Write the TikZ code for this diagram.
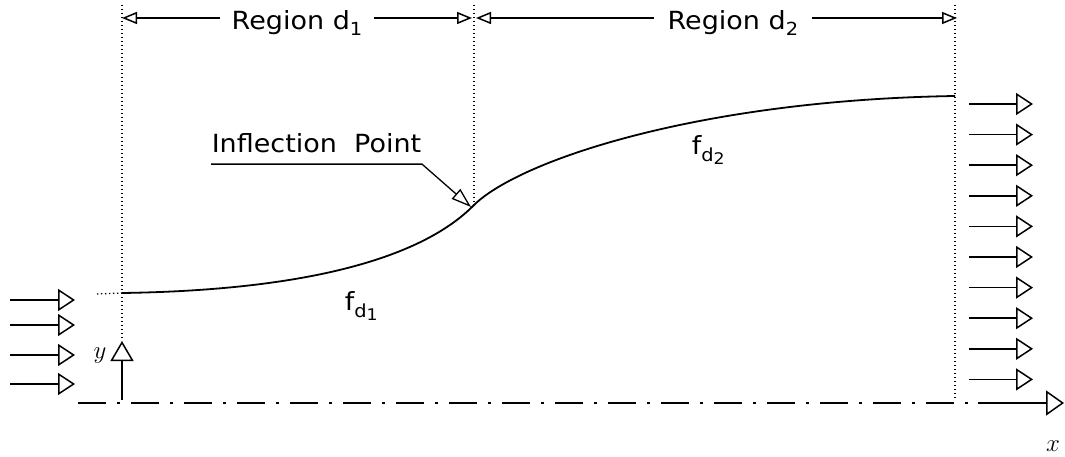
\documentclass[tikz,border=0pt]{standalone}
\usepackage{fontspec}
\setmainfont{DejaVu Sans}[FakeStretch=1.08]
\usetikzlibrary{arrows.meta}
\newcommand{\lowsub}[1]{\raisebox{-6pt}{\fontsize{18}{18}\selectfont #1}}
\newcommand{\fsub}[1]{f\raisebox{-7pt}{\fontsize{18}{18}\selectfont d\raisebox{-3pt}{\fontsize{16}{16}\selectfont #1}}}

\begin{document}
\begin{tikzpicture}[x=1pt,y=-1pt,line width=1.5pt,
  every node/.style={font=\fontsize{25}{25}\selectfont, inner sep=0pt},
  guide/.style={line width=1.3pt, dash pattern=on 1.3pt off 2.7pt},
  centre/.style={dash pattern=on 28pt off 11pt on 3pt off 11pt},
  dimline/.style={{Triangle[open,length=15pt,width=12pt]}-{Triangle[open,length=15pt,width=12pt]}},
  flow/.style={-{Triangle[open,length=17pt,width=22pt]}}]
\useasboundingbox (0,0) rectangle (1065,457);
% guide lines and region limits
\coordinate (a1) at (122,5);
\coordinate (a2) at (474,5);
\coordinate (a3) at (955,5);
\coordinate (a3b) at (955,400);
\coordinate (c0) at (122,293);
\coordinate (c0l) at (97,294);
\coordinate (ipc) at (474,205);
\coordinate (c1) at (955,96);
\coordinate (ytip) at (122,341);
\coordinate (ybase) at (122,400);
\draw[guide] (a1) -- (ytip);
\draw[guide] (a2) -- (ipc);
\draw[guide] (a3) -- (a3b);
\draw[guide] (c0l) -- (c0);
% region dimensions
\coordinate (d1l) at (122,18);
\coordinate (d1r) at (472,18);
\coordinate (d2l) at (476,18);
\coordinate (d2r) at (957,18);
\draw[dimline] (d1l) -- node[pos=.5, anchor=base, yshift=-12pt, fill=white, inner xsep=12pt, inner ysep=2pt] (rone) {Region d\lowsub{1}} (d1r);
\draw[dimline] (d2l) -- node[pos=.534, anchor=base, yshift=-12pt, fill=white, inner xsep=14pt, inner ysep=2pt] (rtwo) {Region d\lowsub{2}} (d2r);
% the curve
\draw[line width=1.8pt] (c0) .. controls (330,290) and (430,250) .. (ipc) .. controls (520,160) and (700,100) .. (c1);
\node[anchor=base west] (fone) at (344,310) {\fsub{1}};
\node[anchor=base west] (ftwo) at (691,155) {\fsub{2}};
% inflection point label
\node[anchor=base west, inner ysep=10pt] (ip) at (211,153) {Inflection\ \ Point};
\coordinate (ipt) at (471,207);
\draw[-{Triangle[open,length=20pt,width=13pt]}, line width=1.3pt] (ip.south west) -- (ip.south east) -- (ipt);
% axes
\coordinate (ax0) at (78,403);
\coordinate (ax1) at (968,403);
\coordinate (ax2) at (978,403);
\coordinate (ax3) at (1064,403);
\draw[centre] (ax0) -- (ax1);
\draw[-{Triangle[open,length=18pt,width=25pt]}] (ax2) -- (ax3);
\draw[-{Triangle[open,length=20pt,width=23pt]}] (ybase) -- (ytip);
\node (ylab) at (100,356) {$y$};
\node (xlab) at (1053,446) {$x$};
% inflow and outflow
\foreach \y [count=\i] in {300,325,355,384} {
  \coordinate (in\i) at (10,\y);
  \coordinate (inend\i) at (75,\y);
  \draw[flow] (in\i) -- (inend\i);
}
\foreach \i in {0,...,9} {
  \coordinate (out\i) at (969,{104+30.6*\i});
  \coordinate (outend\i) at (1033,{104+30.6*\i});
  \draw[flow] (out\i) -- (outend\i);
}
\end{tikzpicture}
\end{document}
